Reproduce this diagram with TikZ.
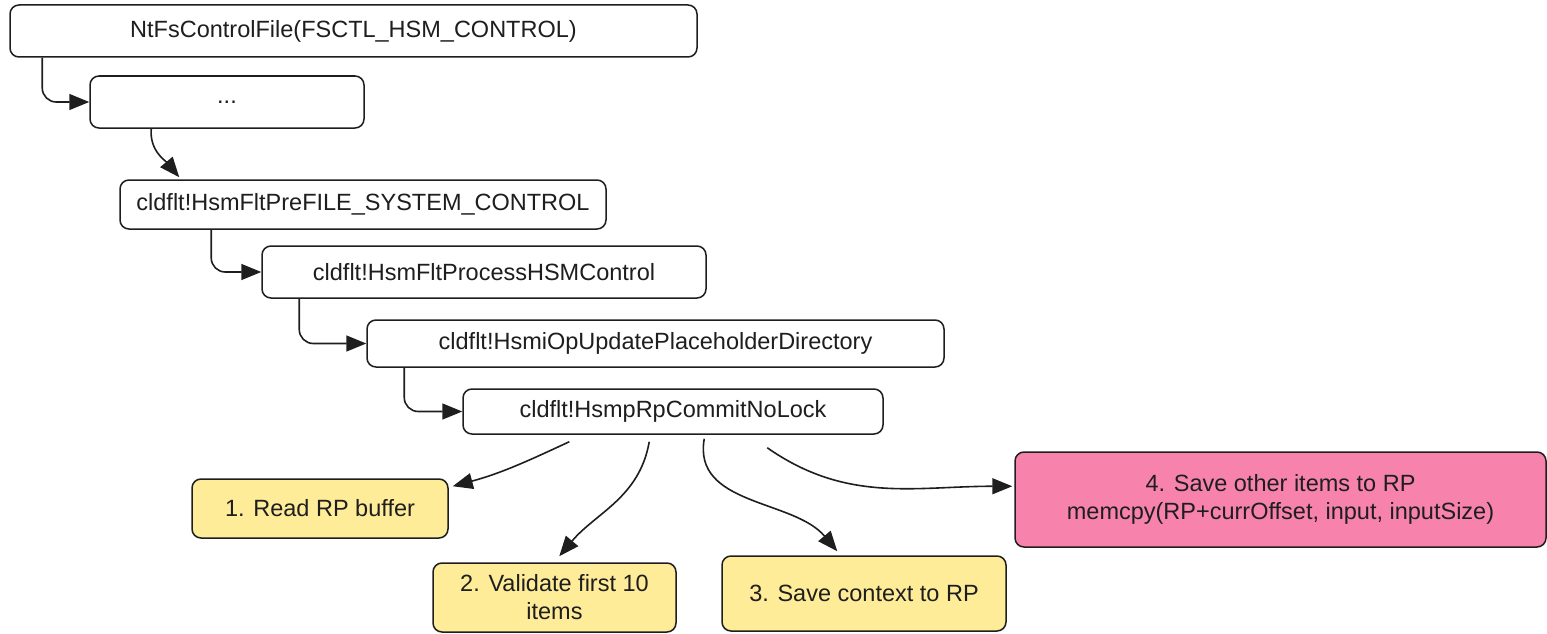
\documentclass[tikz,border=0pt]{standalone}
\usepackage{fontspec}
\setmainfont{Liberation Sans}
\usetikzlibrary{arrows.meta,calc}
\definecolor{ink}{HTML}{1E1E1E}
\definecolor{noteyellow}{HTML}{FFEC99}
\definecolor{notepink}{HTML}{F783AC}
\tikzset{
  callbox/.style={draw=ink, line width=1.5pt, rounded corners=9pt, fill=white,
    font=\fontsize{23.5}{28}\selectfont, text=ink, align=center, inner sep=0pt},
  stepnote/.style={callbox, fill=noteyellow},
  hotnote/.style={callbox, fill=notepink},
  flow/.style={draw=ink, line width=1.6pt, -{Triangle[length=20pt,width=16pt]}},
  elbow/.style={flow, rounded corners=14pt},
}
\begin{document}
\begin{tikzpicture}[x=1pt,y=-1pt]
\useasboundingbox (0,0) rectangle (1547,634);

% call chain
\node[callbox, minimum width=687pt, minimum height=52pt] (ntfs) at (353.5,31) {NtFsControlFile(FSCTL\_HSM\_CONTROL)};
\node[callbox, minimum width=274pt, minimum height=52pt] (dots) at (227,102) {...};
\node[callbox, minimum width=486pt, minimum height=49pt] (pre) at (363,204.5) {cldflt!HsmFltPreFILE\_SYSTEM\_CONTROL};
\node[callbox, minimum width=444pt, minimum height=52pt] (proc) at (484,272) {cldflt!HsmFltProcessHSMControl};
\node[callbox, minimum width=577pt, minimum height=47pt] (upd) at (655.5,343.5) {cldflt!HsmiOpUpdatePlaceholderDirectory};
\node[callbox, minimum width=420pt, minimum height=45pt] (commit) at (673,411.5) {cldflt!HsmpRpCommitNoLock};

% steps performed by the commit routine
\node[stepnote, minimum width=256pt, minimum height=59pt] (s1) at (320,508.5) {1. Read RP buffer};
\node[stepnote, minimum width=243pt, minimum height=69pt] (s2) at (554.5,597.5) {2. Validate first 10\\items};
\node[stepnote, minimum width=284pt, minimum height=75pt] (s3) at (864,593.5) {3. Save context to RP};
\node[hotnote, minimum width=531pt, minimum height=95pt] (s4) at (1280.5,499.5) {4. Save other items to RP\\memcpy(RP+currOffset, input, inputSize)};

% call edges
\draw[elbow] ($(ntfs.south west)+(33,0)$) |- (dots.west);
\draw[flow] ($(dots.south west)+(62,0)$) to[out=-95,in=130] ($(pre.north west)+(60,-2)$);
\draw[elbow] ($(pre.south west)+(92,0)$) |- (proc.west);
\draw[elbow] ($(proc.south west)+(38,0)$) |- (upd.west);
\draw[elbow] ($(upd.south west)+(38,0)$) |- (commit.west);

% step edges
\draw[flow] ($(commit.south west)+(107,7)$) to[out=205,in=15] ($(s1.north east)+(4,8)$);
\draw[flow] ($(commit.south west)+(187,7)$) to[out=-100,in=50] ($(s2.north west)+(127,-6)$);
\draw[flow] ($(commit.south west)+(242,4)$) to[out=-100,in=130] ($(s3.north west)+(116,-4)$);
\draw[flow] ($(commit.south west)+(305,13)$) to[out=-35,in=180] ($(s4.north west)+(-2,35)$);
\end{tikzpicture}
\end{document}
